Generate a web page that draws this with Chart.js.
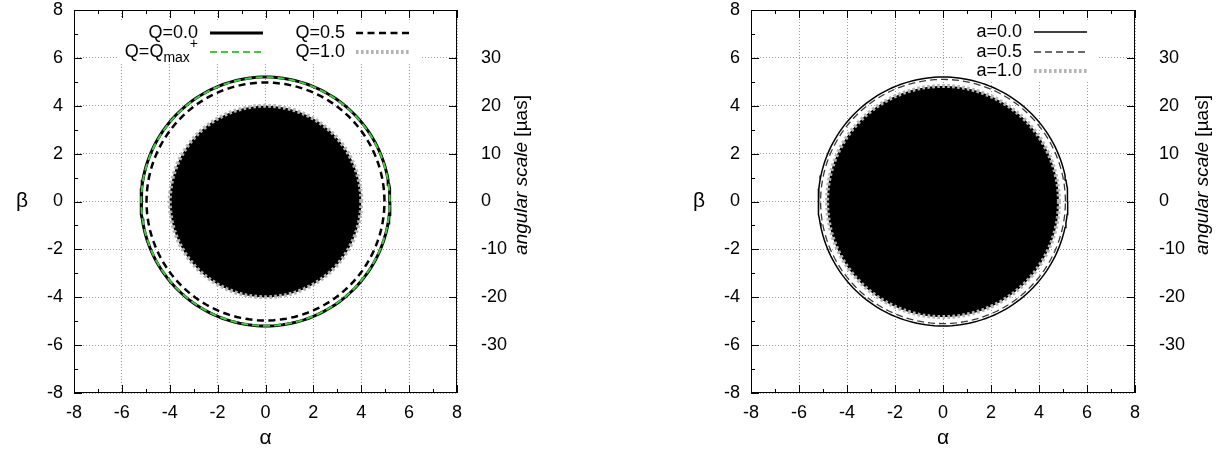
<!DOCTYPE html>
<html>
<head>
<meta charset="utf-8">
<script src="https://cdn.jsdelivr.net/npm/chart.js@4.4.0/dist/chart.umd.min.js"></script>
<style>
  html, body { margin:0; padding:0; background:#fff; }
  #wrap { position:relative; width:1225px; height:452px; }
  canvas { position:absolute; top:0; }
</style>
</head>
<body>
<div id="wrap">
  <canvas id="cCharge" width="610" height="452" style="left:0"></canvas>
  <canvas id="cSpin" width="613" height="452" style="left:612px"></canvas>
</div>
<script>
const FONT = '"Liberation Sans", Arial, Helvetica, sans-serif';

// axes
const alphaTicks = [-8,-6,-4,-2,0,2,4,6,8];
const betaTicks  = [-8,-6,-4,-2,0,2,4,6,8];
const minorTicks = [-7,-5,-3,-1,1,3,5,7];
const angTicks   = [-30,-20,-10,0,10,20,30];
const angAtEdge  = 40;   // µas at beta = ±8

// shadow radii (in alpha/beta units)
const chargeLabels = ['Q=0.0', 'Q=Q_{max}^{+}', 'Q=0.5', 'Q=1.0'];
const chargeRadii  = [5.20, 5.19, 4.97, 4.00];
const spinLabels   = ['a=0.0', 'a=0.5', 'a=1.0'];
const spinRadii    = [5.20, 5.10, 4.83];

function circle(r){
  const pts = [];
  for (let k = 0; k <= 360; k += 2){
    const t = k * Math.PI / 180;
    pts.push({ x: r * Math.cos(t), y: r * Math.sin(t) });
  }
  return pts;
}

// 'Q=Q_{max}^{+}' -> [{t:'Q=Q'},{t:'max',sub:1},{t:'+',sup:1}]
function parts(label){
  const out = [];
  const re = /([_^])\{([^}]*)\}|([^_^]+)/g;
  let m;
  while ((m = re.exec(label))){
    if (m[3]) out.push({ t:m[3] });
    else out.push({ t:m[2], sub:m[1]==='_', sup:m[1]==='^' });
  }
  return out;
}

function drawRich(ctx, label, xRight, y, size){
  const ps = parts(label);
  const small = Math.round(size * 0.75);
  const fontOf = p => `${(p.sub||p.sup) ? small : size}px ${FONT}`;
  let w = 0;
  ps.forEach(p => { ctx.font = fontOf(p); p.w = ctx.measureText(p.t).width; w += p.w; });
  let x = xRight - w;
  ctx.textAlign = 'left';
  ctx.textBaseline = 'middle';
  ps.forEach(p => {
    ctx.font = fontOf(p);
    const dy = p.sub ? 6 : (p.sup ? -8 : 0);
    ctx.fillText(p.t, x, y + dy);
    x += p.w;
  });
}

function line(ctx, x1, y1, x2, y2){
  ctx.beginPath(); ctx.moveTo(x1, y1); ctx.lineTo(x2, y2); ctx.stroke();
}

// keep the plot frame where it is: no extra room for the end tick labels
function noPad(s){ s.paddingTop = 0; s.paddingBottom = 0; s.paddingLeft = 0; s.paddingRight = 0; }

const decorPlugin = {
  id: 'decor',
  beforeDatasetsDraw(chart, args, opts){
    const { ctx } = chart;
    const b = opts.keyBox;
    ctx.save();
    ctx.fillStyle = '#fff';
    ctx.fillRect(b[0], b[1], b[2] - b[0], b[3] - b[1]);
    ctx.restore();
  },
  afterDatasetsDraw(chart, args, opts){
    const { ctx } = chart;
    ctx.save();
    ctx.fillStyle = '#000';
    opts.key.forEach((k, i) => {
      const ds = chart.data.datasets[i];
      drawRich(ctx, ds.label, k.textRight, k.y, 18);
      ctx.strokeStyle = ds.borderColor;
      ctx.lineWidth = ds.borderWidth;
      ctx.setLineDash(ds.borderDash || []);
      line(ctx, k.x1, k.y, k.x2, k.y);
    });
    ctx.restore();
  },
  afterDraw(chart, args, opts){
    const { ctx, chartArea: { left, right, top, bottom }, scales: { x, y, y2 } } = chart;
    const major = 8, minor = 4;
    ctx.save();
    ctx.strokeStyle = '#000';
    ctx.lineWidth = 1;
    ctx.setLineDash([]);
    alphaTicks.forEach(v => {
      const px = Math.round(x.getPixelForValue(v)) + 0.5;
      line(ctx, px, bottom, px, bottom - major);
      line(ctx, px, top, px, top + major);
    });
    minorTicks.forEach(v => {
      const px = Math.round(x.getPixelForValue(v)) + 0.5;
      line(ctx, px, bottom, px, bottom - minor);
      line(ctx, px, top, px, top + minor);
    });
    betaTicks.forEach(v => {
      const py = Math.round(y.getPixelForValue(v)) + 0.5;
      line(ctx, left, py, left + major, py);
    });
    minorTicks.forEach(v => {
      const py = Math.round(y.getPixelForValue(v)) + 0.5;
      line(ctx, left, py, left + minor, py);
    });
    angTicks.forEach(v => {
      const py = Math.round(y2.getPixelForValue(v)) + 0.5;
      line(ctx, right, py, right - major, py);
    });
    ctx.strokeRect(Math.round(left) + 0.5, Math.round(top) + 0.5,
                   Math.round(right - left) - 1, Math.round(bottom - top) - 1);

    // beta label (upright)
    ctx.fillStyle = '#000';
    ctx.font = `21px ${FONT}`;
    ctx.textAlign = 'center';
    ctx.textBaseline = 'middle';
    ctx.fillText('β', opts.betaX, (top + bottom) / 2);

    // right axis label
    ctx.translate(opts.angX, opts.angY);
    ctx.rotate(-Math.PI / 2);
    const t1 = 'angular scale', t2 = ' [µas]';
    ctx.font = `italic 19px ${FONT}`;
    const w1 = ctx.measureText(t1).width;
    ctx.font = `19px ${FONT}`;
    const w2 = ctx.measureText(t2).width;
    const x0 = -(w1 + w2) / 2;
    ctx.textAlign = 'left';
    ctx.font = `italic 19px ${FONT}`;
    ctx.fillText(t1, x0, 0);
    ctx.font = `19px ${FONT}`;
    ctx.fillText(t2, x0 + w1, 0);
    ctx.restore();
  }
};

function scalesFor(leftW, rightW){
  const tickFont = { family: FONT, size: 18 };
  const grid = { color: '#9a9a9a', lineWidth: 1, drawTicks: false };
  return {
    x: {
      type: 'linear', position: 'bottom', min: -8, max: 8,
      afterBuildTicks: s => { s.ticks = alphaTicks.map(v => ({ value: v })); },
      afterFit: s => { s.height = 59; noPad(s); },
      grid, border: { display: false, dash: [1, 2] },
      ticks: { color: '#000', font: tickFont, padding: 9 },
      title: { display: true, text: 'α', color: '#000', font: { family: FONT, size: 21 }, padding: { top: 0, bottom: 1 } },
    },
    y: {
      type: 'linear', position: 'left', min: -8, max: 8,
      afterBuildTicks: s => { s.ticks = betaTicks.map(v => ({ value: v })); },
      afterFit: s => { s.width = leftW; noPad(s); },
      grid, border: { display: false, dash: [1, 2] },
      ticks: { color: '#000', font: tickFont, padding: 11 },
    },
    y2: {
      type: 'linear', position: 'right', min: -angAtEdge, max: angAtEdge,
      afterBuildTicks: s => { s.ticks = angTicks.map(v => ({ value: v })); },
      afterFit: s => { s.width = rightW; noPad(s); },
      grid: { display: false }, border: { display: false },
      ticks: { color: '#000', font: tickFont, padding: 16 },
    },
  };
}

function ds(label, r, style){
  return Object.assign({
    label, data: circle(r), showLine: true, pointRadius: 0, pointHoverRadius: 0,
    tension: 0, fill: false, borderDash: [],
  }, style);
}

function makeChart(el, datasets, geo){
  return new Chart(el, {
    type: 'scatter',
    data: { datasets },
    options: {
      responsive: false,
      animation: false,
      events: [],
      layout: { padding: { top: 10, left: 0, right: 0, bottom: 0 } },
      scales: scalesFor(geo.leftW, geo.rightW),
      plugins: {
        legend: { display: false },
        tooltip: { enabled: false },
        decor: geo,
      },
    },
    plugins: [decorPlugin],
  });
}

const dotted = { borderColor: '#b4b4b4', borderWidth: 4, borderDash: [2.6, 2.4], fill: 'shape', backgroundColor: '#000' };

makeChart(document.getElementById('cCharge'), [
  ds(chargeLabels[0], chargeRadii[0], { borderColor: '#000', borderWidth: 3, order: 2 }),
  ds(chargeLabels[1], chargeRadii[1], { borderColor: '#44c844', borderWidth: 2, borderDash: [7, 4], order: 1 }),
  ds(chargeLabels[2], chargeRadii[2], { borderColor: '#000', borderWidth: 2.5, borderDash: [7, 4.5], order: 3 }),
  ds(chargeLabels[3], chargeRadii[3], Object.assign({ order: 4 }, dotted)),
], {
  leftW: 74, rightW: 153, betaX: 22, angX: 522, angY: 175,
  keyBox: [117, 22, 422, 63],
  key: [
    { textRight: 198, y: 33, x1: 210, x2: 263 },
    { textRight: 198, y: 52, x1: 210, x2: 263 },
    { textRight: 345, y: 33, x1: 356, x2: 409 },
    { textRight: 345, y: 52, x1: 356, x2: 409 },
  ],
});

makeChart(document.getElementById('cSpin'), [
  ds(spinLabels[0], spinRadii[0], { borderColor: '#000', borderWidth: 1.5, order: 1 }),
  ds(spinLabels[1], spinRadii[1], { borderColor: '#3a3a3a', borderWidth: 1.3, borderDash: [7, 4], order: 2 }),
  ds(spinLabels[2], spinRadii[2], Object.assign({ order: 3 }, dotted)),
], {
  leftW: 139, rightW: 90, betaX: 87, angX: 591, angY: 175,
  keyBox: [351, 20, 486, 81],
  key: [
    { textRight: 410, y: 32, x1: 422, x2: 475 },
    { textRight: 410, y: 52, x1: 422, x2: 475 },
    { textRight: 410, y: 71, x1: 422, x2: 475 },
  ],
});
</script>
</body>
</html>
